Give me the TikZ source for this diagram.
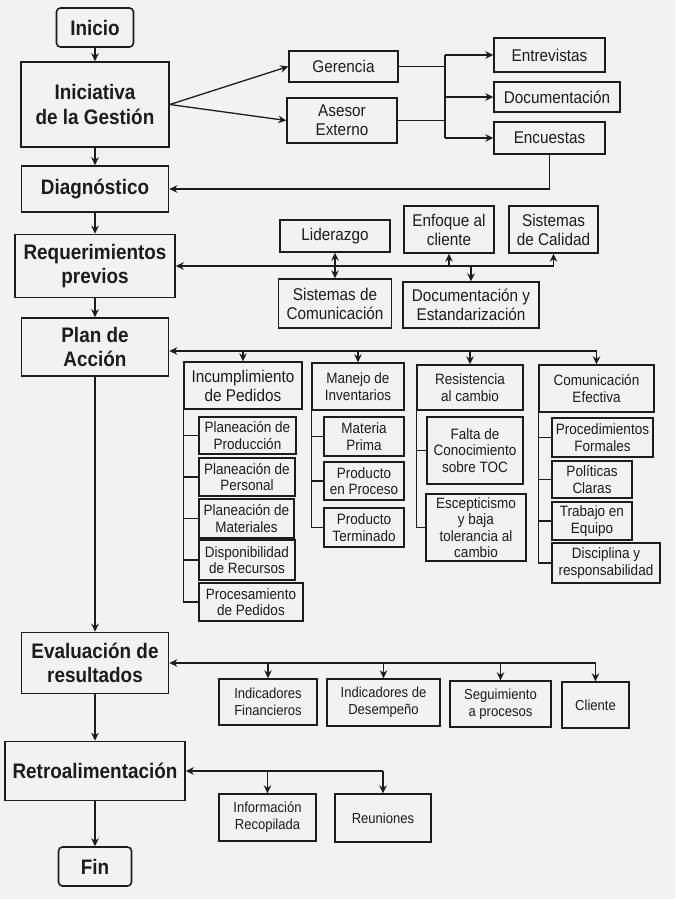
\documentclass[tikz,border=0pt]{standalone}
\usepackage{fontspec}
\setmainfont{Liberation Sans}[FakeStretch=0.9]
\usetikzlibrary{
  arrows.meta
}
\definecolor{paper}{RGB}{242,242,242}
\definecolor{ink}{RGB}{28,28,28}
\tikzset{
  >={Stealth[length=8pt, width=7.5pt]},
  wh/.style 2 args={minimum width=#1, minimum height=#2},
  stage/.style={draw, line width=1.6pt, align=center, inner sep=0pt,
    font=\bfseries\fontsize{21}{24.5}\selectfont},
  terminal/.style={stage, rounded corners=4pt},
  item/.style={draw, line width=1.4pt, align=center, inner sep=0pt,
    font=\fontsize{17}{19}\selectfont},
  subitem/.style={item, font=\fontsize{15}{16.5}\selectfont},
  result/.style={item, font=\fontsize{14.5}{17}\selectfont}
}

\begin{document}
\begin{tikzpicture}[x=1pt, y=-1pt, color=ink, line width=1.3pt]
    \useasboundingbox[fill=paper] (0,0) rectangle (675,899);

    % main column
    \node[terminal, wh={77}{39}] (inicio) at (95,27.5) {Inicio};
    \node[stage, wh={148}{85}] (inic) at (95,104.5) {Iniciativa\\de la Gestión};
    \node[stage, wh={147}{46}] (diag) at (95,189) {Diagnóstico};
    \node[stage, wh={160}{63}] (req) at (95,266) {Requerimientos\\previos};
    \node[stage, wh={147}{58}] (plan) at (95,347) {Plan de\\Acción};
    \node[stage, wh={147}{61}] (eval) at (95,663) {Evaluación de\\resultados};
    \node[stage, wh={180}{59}] (retro) at (95,771) {Retroalimentación};
    \node[terminal, wh={73}{39}] (fin) at (95,866.5) {Fin};

    \draw[->] (inicio) -- (inic);
    \draw[->] (inic) -- (diag);
    \draw[->] (diag) -- (req);
    \draw[->] (req) -- (plan);
    \draw[->] (plan) -- (eval);
    \draw[->] (eval) -- (retro);
    \draw[->] (retro) -- (fin);

    % iniciativa
    \node[item, wh={109}{31}] (ger) at (343.5,66.5) {Gerencia};
    \node[item, wh={110}{45}] (ase) at (342,120.5) {Asesor\\Externo};
    \node[item, wh={111}{34}] (ent) at (549.5,55) {Entrevistas};
    \node[item, wh={126}{30}] (doc) at (557,97) {Documentación};
    \node[item, wh={111}{32}] (enc) at (549.5,138) {Encuestas};
    \coordinate (split) at (445,97);

    \draw[->] (inic.east) -- (ger.west);
    \draw[->] (inic.east) -- (ase.west);
    \draw (ger.east) -- (ger.east -| split);
    \draw (ase.east) -- (ase.east -| split);
    \draw (split |- ent.west) -- (split |- enc.west);
    \draw[->] (split |- ent.west) -- (ent.west);
    \draw[->] (split |- doc.west) -- (doc.west);
    \draw[->] (split |- enc.west) -- (enc.west);
    \draw[->] (enc.south) |- (diag.east);

    % requerimientos
    \node[item, wh={110}{32}] (lid) at (335,236) {Liderazgo};
    \node[item, wh={90}{47}] (enf) at (449,229.5) {Enfoque al\\cliente};
    \node[item, wh={89}{47}] (cal) at (553.5,229.5) {Sistemas\\de Calidad};
    \node[item, wh={113}{49}] (com) at (335,303.5) {Sistemas de\\Comunicación};
    \node[item, wh={136}{46}] (est) at (471,305) {Documentación y\\Estandarización};

    \draw[->] (cal.south |- req.east) -- (req.east);
    \draw[->] (cal.south |- req.east) -- (cal.south);
    \draw[->] (enf.south |- req.east) -- (enf.south);
    \draw[<->] (lid.south) -- (com.north);
    \draw[->] (est.north |- req.east) -- (est.north);

    % plan de accion
    \coordinate (pl) at (597,351);
    \node[item, wh={118}{47}] (inc) at (243,385.5) {Incumplimiento\\de Pedidos};
    \node[subitem, wh={92}{47}] (man) at (358,386.5) {Manejo de\\Inventarios};
    \node[subitem, wh={106}{45}] (res) at (470,387.5) {Resistencia\\al cambio};
    \node[subitem, wh={115}{47}] (cef) at (596.5,388.5) {Comunicación\\Efectiva};

    \draw[->] (pl) -- (plan.east |- pl);
    \draw[->] (inc.north |- pl) -- (inc.north);
    \draw[->] (man.north |- pl) -- (man.north);
    \draw[->] (res.north |- pl) -- (res.north);
    \draw[->] (cef.north |- pl) -- (cef.north);

    \node[subitem, wh={97}{37}] (pp) at (247.5,435.5) {Planeación de\\Producción};
    \node[subitem, wh={96}{38}] (pe) at (247,477) {Planeación de\\Personal};
    \node[subitem, wh={95}{39}] (pm) at (246.5,518.5) {Planeación de\\Materiales};
    \node[subitem, wh={96}{40}] (dr) at (247,560) {Disponibilidad\\de Recursos};
    \node[subitem, wh={104}{38}] (pr) at (251,602) {Procesamiento\\de Pedidos};

    \node[subitem, wh={80}{39}] (mp) at (364,436.5) {Materia\\Prima};
    \node[subitem, wh={80}{38}] (ep) at (364,481) {Producto\\en Proceso};
    \node[subitem, wh={80}{39}] (pt) at (364,527.5) {Producto\\Terminado};

    \node[subitem, wh={96}{67}] (fc) at (475,450.5) {Falta de\\Conocimiento\\sobre TOC};
    \node[subitem, wh={100}{67}] (es) at (476,527.5) {Escepticismo\\y baja\\tolerancia al\\cambio};

    \node[subitem, wh={101}{39}] (pf) at (602.5,437.5) {Procedimientos\\Formales};
    \node[subitem, wh={80}{37}] (pc) at (592,479.5) {Políticas\\Claras};
    \node[subitem, wh={80}{38}] (te) at (592,521) {Trabajo en\\Equipo};
    \node[subitem, wh={108}{40}] (dy) at (606,563) {Disciplina y\\responsabilidad};

    \foreach \s in {pp,pe,pm,dr,pr} \draw (inc.south west) |- (\s.west);
    \foreach \s in {mp,ep,pt} \draw (man.south west) |- (\s.west);
    \foreach \s in {fc,es} \draw (res.south west) |- (\s.west);
    \foreach \s in {pf,pc,te,dy} \draw (cef.south west) |- (\s.west);

    % evaluacion
    \node[result, wh={98}{46}] (fin1) at (268,702) {Indicadores\\Financieros};
    \node[result, wh={113}{47}] (des) at (383.5,702.5) {Indicadores de\\Desempeño};
    \node[result, wh={101}{46}] (seg) at (500.5,704) {Seguimiento\\a procesos};
    \node[result, wh={67}{46}] (cli) at (595.5,705) {Cliente};

    \draw[->] (cli.north |- eval.east) -- (eval.east);
    \foreach \s in {fin1,des,seg,cli} \draw[->] (\s.north |- eval.east) -- (\s.north);

    % retroalimentacion
    \node[result, wh={97}{47}] (inf) at (267.5,817.5) {Información\\Recopilada};
    \node[result, wh={96}{48}] (reu) at (383,818) {Reuniones};

    \draw[->] (reu.north |- retro.east) -- (retro.east);
    \draw[->] (inf.north |- retro.east) -- (inf.north);
    \draw[->] (reu.north |- retro.east) -- (reu.north);
  \end{tikzpicture}
\end{document}
